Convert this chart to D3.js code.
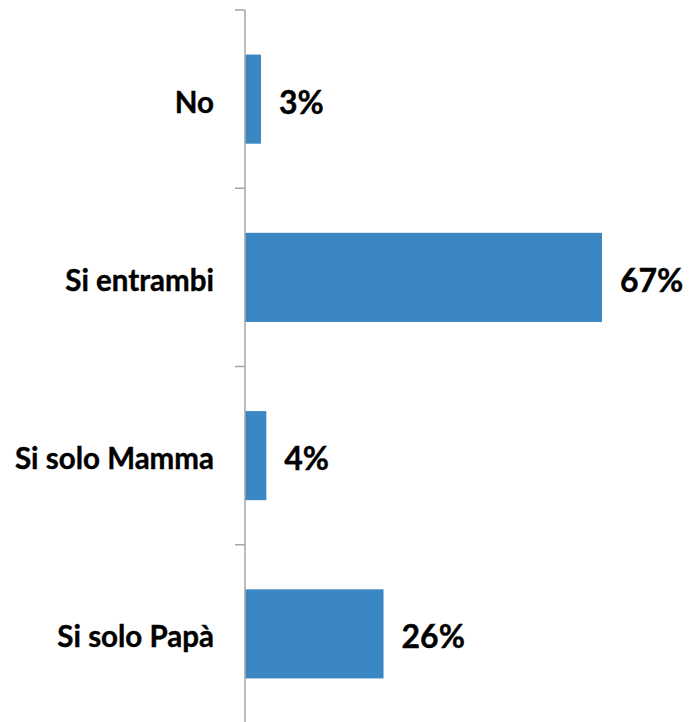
<!DOCTYPE html>
<html><head><meta charset="utf-8">
<script src="https://cdn.jsdelivr.net/npm/d3@7"></script>
<style>body{margin:0;background:#fff;} svg{display:block;}</style>
</head><body>
<script>
const categories = ["No", "Si entrambi", "Si solo Mamma", "Si solo Papà"];
const values = [3, 67, 4, 26];
const valueLabels = ["3%", "67%", "4%", "26%"];

const W = 690, H = 722;
const svg = d3.select("body").append("svg").attr("width", W).attr("height", H);
const x0 = 245;
const x = d3.scaleLinear().domain([0, 67]).range([x0, 602]);
const y = d3.scaleBand().domain(categories).range([10, 723]).paddingInner(0.5).paddingOuter(0.25);
const font = "Lato, 'Open Sans', sans-serif";

svg.selectAll("rect.bar").data(values).enter().append("rect")
  .attr("x", x(0)).attr("y", (d,i)=>y(categories[i]))
  .attr("width", d=>x(d)-x(0)).attr("height", y.bandwidth())
  .attr("fill", "#3A87C4");

// axis
const step = y.step();
const tickYs = d3.range(categories.length+1).map(i => 10 + i*step);
svg.append("line").attr("x1", x0).attr("x2", x0).attr("y1", 10).attr("y2", 723)
  .attr("stroke", "#A6A6A6").attr("stroke-width", 1.5);
svg.selectAll("line.tick").data(tickYs).enter().append("line")
  .attr("x1", x0-10).attr("x2", x0).attr("y1", d=>d).attr("y2", d=>d)
  .attr("stroke", "#A6A6A6").attr("stroke-width", 1.5);

svg.selectAll("text.cat").data(categories).enter().append("text")
  .attr("x", 214).attr("y", d=>y(d)+y.bandwidth()/2+2)
  .attr("text-anchor", "end").attr("dominant-baseline", "central")
  .attr("font-family", font).attr("font-weight", "bold").attr("font-size", 29.5)
  .attr("stroke", "#000").attr("stroke-width", 0.4)
  .attr("fill", "#000").text(d=>d);

svg.selectAll("text.val").data(values).enter().append("text")
  .attr("x", d=>x(d)+18).attr("y", (d,i)=>y(categories[i])+y.bandwidth()/2+2)
  .attr("dominant-baseline", "central")
  .attr("font-family", font).attr("font-weight", "bold").attr("font-size", 32)
  .attr("stroke", "#000").attr("stroke-width", 0.4)
  .attr("fill", "#000").text((d,i)=>valueLabels[i]);
</script>
</body></html>
